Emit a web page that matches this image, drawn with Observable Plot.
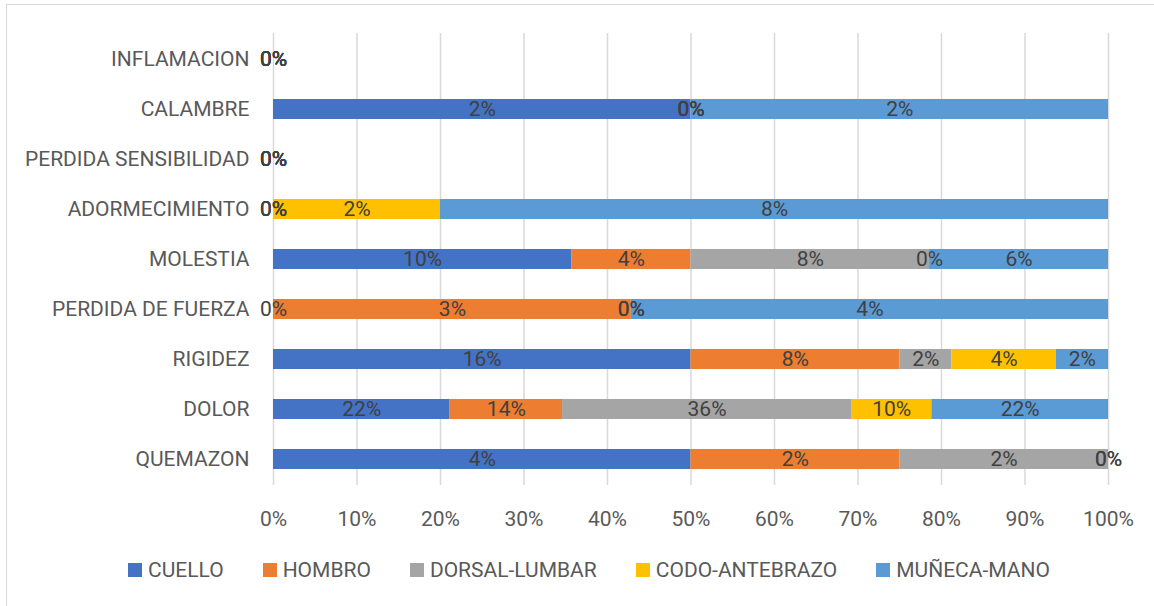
<!DOCTYPE html>
<html>
<head>
<meta charset="utf-8">
<script src="https://cdn.jsdelivr.net/npm/d3@7"></script>
<script src="https://cdn.jsdelivr.net/npm/@observablehq/plot@0.6"></script>
<style>
  html, body { margin: 0; padding: 0; background: #fff; }
  #wrap { position: relative; width: 1154px; height: 606px; overflow: hidden; font-family: Roboto, "Liberation Sans", sans-serif; }
  #frame { position: absolute; left: 6px; top: 4px; width: 1160px; height: 620px; border: 1px solid #d9d9d9; box-sizing: border-box; }
  #chart { position: absolute; left: 0; top: 0; }
  #legend { position: absolute; left: 128px; top: 558px; display: flex; align-items: center; gap: 39px; font-size: 21px; color: #595959; white-space: nowrap; }
  .item { display: flex; align-items: center; gap: 6px; }
  .sw { width: 14px; height: 14px; display: inline-block; }
</style>
</head>
<body>
<div id="wrap">
  <div id="frame"></div>
  <div id="chart"></div>
  <div id="legend"></div>
</div>
<script>
// Categories listed bottom to top as in the chart
const categories = ["QUEMAZON", "DOLOR", "RIGIDEZ", "PERDIDA DE FUERZA", "MOLESTIA", "ADORMECIMIENTO", "PERDIDA SENSIBILIDAD", "CALAMBRE", "INFLAMACION"];
const series = ["CUELLO", "HOMBRO", "DORSAL-LUMBAR", "CODO-ANTEBRAZO", "MUÑECA-MANO"];
const colors = ["#4472C4", "#ED7D31", "#A5A5A5", "#FFC000", "#5B9BD5"];
const cuello  = [4, 22, 16, 0, 10, 0, 0, 2, 0];
const hombro  = [2, 14, 8, 3, 4, 0, 0, 0, 0];
const dorsal  = [2, 36, 2, 0, 8, 0, 0, 0, 0];
const codo    = [0, 10, 4, 0, 0, 2, 0, 0, 0];
const muneca  = [0, 22, 2, 4, 6, 8, 0, 2, 0];
const xTicks = [0, 10, 20, 30, 40, 50, 60, 70, 80, 90, 100];

const seriesValues = [cuello, hombro, dorsal, codo, muneca];

// Build 100%-stacked rows (rows with zero total stay at 0)
const rows = [];
categories.forEach((cat, i) => {
  const total = d3.sum(seriesValues, s => s[i]);
  let cum = 0;
  series.forEach((s, j) => {
    const v = seriesValues[j][i];
    const x1 = total ? cum / total * 100 : 0;
    cum += v;
    const x2 = total ? cum / total * 100 : 0;
    rows.push({cat, series: s, value: v, x1, x2, xm: (x1 + x2) / 2});
  });
});

const chart = Plot.plot({
  width: 1154,
  height: 545,
  marginTop: 33,
  marginBottom: 60,
  marginLeft: 273,
  marginRight: 46,
  style: {fontFamily: "Roboto, 'Liberation Sans', sans-serif", fontSize: "21px", color: "#595959", background: "transparent"},
  x: {domain: [0, 100], label: null},
  y: {domain: categories.slice().reverse(), paddingInner: 0.6, paddingOuter: 0.3, label: null},
  color: {domain: series, range: colors},
  marks: [
    Plot.gridX(xTicks, {stroke: "#d9d9d9", strokeOpacity: 1, strokeWidth: 1.5}),
    Plot.barX(rows, {x1: "x1", x2: "x2", y: "cat", fill: "series"}),
    Plot.text(rows, {x: "xm", y: "cat", text: d => d.value + "%", fill: "#404040", fontSize: 21}),
    Plot.axisX({ticks: xTicks, tickFormat: d => d + "%", tickSize: 0, tickPadding: 26, label: null, fontSize: 21}),
    Plot.axisY({tickSize: 0, tickPadding: 24, label: null, fontSize: 21})
  ]
});
document.getElementById("chart").appendChild(chart);

const legend = document.getElementById("legend");
series.forEach((s, j) => {
  const item = document.createElement("div");
  item.className = "item";
  const sw = document.createElement("span");
  sw.className = "sw";
  sw.style.background = colors[j];
  const t = document.createElement("span");
  t.textContent = s;
  item.appendChild(sw);
  item.appendChild(t);
  legend.appendChild(item);
});
</script>
</body>
</html>
